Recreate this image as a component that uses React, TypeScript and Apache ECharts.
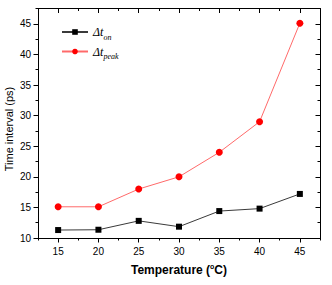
import React, { useEffect, useRef } from 'react';
import * as echarts from 'echarts';

const temperatures = [15, 20, 25, 30, 35, 40, 45];
const dtOn = [11.3, 11.35, 12.8, 11.85, 14.4, 14.8, 17.2];
const dtPeak = [15.1, 15.1, 18, 20, 24, 29, 45.1];
const xTicks = [15, 20, 25, 30, 35, 40, 45];
const yTicks = [10, 15, 20, 25, 30, 35, 40, 45];
const seriesNames = ['on', 'peak'];

const FONT = '"Liberation Sans", Arial, sans-serif';

export default function App() {
  const ref = useRef<HTMLDivElement>(null);
  useEffect(() => {
    if (!ref.current) return;
    const chart = echarts.init(ref.current, null, { renderer: 'svg' });
    const black = '#000';
    const baseX = {
      type: 'value', min: 12.5, max: 47.5, interval: 2.5, splitLine: { show: false },
    };
    const baseY = {
      type: 'value', min: 10, max: 47.5, interval: 2.5, splitLine: { show: false },
    };
    const legendRich = {
      a: { fontFamily: '"Liberation Serif", "Times New Roman", serif', fontStyle: 'italic', fontSize: 12, color: black },
      b: { fontFamily: '"Liberation Serif", "Times New Roman", serif', fontStyle: 'italic', fontSize: 8, color: black, padding: [10, 0, 0, 0] },
    };
    const legendFormatter = (n: string) => `{a|Δt}{b|${n}}`;
    chart.setOption({
      animation: false,
      textStyle: { fontFamily: FONT },
      grid: { left: 38, right: 12, top: 8.5, bottom: 47, containLabel: false },
      legend: [
        {
          data: [seriesNames[0]], left: 56, top: 21, itemWidth: 26, itemHeight: 7,
          formatter: legendFormatter, textStyle: { rich: legendRich }, itemGap: 4,
        },
        {
          data: [seriesNames[1]], left: 56, top: 40.5, itemWidth: 26, itemHeight: 7,
          formatter: legendFormatter, textStyle: { rich: legendRich }, itemGap: 4,
        },
      ],
      xAxis: [
        {
          ...baseX, position: 'bottom',
          axisLine: { show: true, onZero: false, lineStyle: { color: black, width: 1 } },
          axisTick: { show: true, inside: false, length: 2.5, lineStyle: { color: black } },
          axisLabel: { customValues: xTicks, fontSize: 10, color: black, margin: 8, fontFamily: FONT },
          name: 'Temperature ({s|o}C)', nameLocation: 'middle', nameGap: 25,
          nameTextStyle: {
            fontFamily: FONT, fontWeight: 'bold', fontSize: 12, color: black,
            rich: { s: { fontFamily: FONT, fontWeight: 'bold', fontSize: 7, color: black, padding: [0, 0, 6, 0] } },
          },
        },
        {
          ...baseX, position: 'bottom',
          axisLine: { show: false, onZero: false },
          axisTick: { show: true, inside: false, length: 4.5, customValues: xTicks, lineStyle: { color: black } },
          axisLabel: { show: false },
        },
        {
          ...baseX, position: 'top',
          axisLine: { show: true, onZero: false, lineStyle: { color: black, width: 1 } },
          axisTick: { show: true, inside: true, length: 2.5, lineStyle: { color: black } },
          axisLabel: { show: false },
        },
        {
          ...baseX, position: 'top',
          axisLine: { show: false, onZero: false },
          axisTick: { show: true, inside: true, length: 4.5, customValues: xTicks, lineStyle: { color: black } },
          axisLabel: { show: false },
        },
      ],
      yAxis: [
        {
          ...baseY, position: 'left',
          axisLine: { show: true, onZero: false, lineStyle: { color: black, width: 1 } },
          axisTick: { show: true, inside: false, length: 2.5, lineStyle: { color: black } },
          axisLabel: { customValues: yTicks, fontSize: 10, color: black, margin: 7, fontFamily: FONT },
        },
        {
          ...baseY, position: 'left',
          axisLine: { show: false, onZero: false },
          axisTick: { show: true, inside: false, length: 4.5, customValues: yTicks, lineStyle: { color: black } },
          axisLabel: { show: false },
        },
        {
          ...baseY, position: 'right',
          axisLine: { show: true, onZero: false, lineStyle: { color: black, width: 1 } },
          axisTick: { show: true, inside: true, length: 2.5, lineStyle: { color: black } },
          axisLabel: { show: false },
        },
        {
          ...baseY, position: 'right',
          axisLine: { show: false, onZero: false },
          axisTick: { show: true, inside: true, length: 4.5, customValues: yTicks, lineStyle: { color: black } },
          axisLabel: { show: false },
        },
      ],
      graphic: [
        {
          type: 'text', x: 3.5, y: 129, rotation: Math.PI / 2,
          style: {
            text: 'Time interval (ps)', fontSize: 11, fontFamily: FONT, fill: black,
            align: 'center', verticalAlign: 'top',
          },
        },
      ],
      series: [
        {
          name: seriesNames[0], type: 'line', xAxisIndex: 0, yAxisIndex: 0,
          data: temperatures.map((t, i) => [t, dtOn[i]]),
          symbol: 'rect', symbolSize: 6,
          itemStyle: { color: '#000' },
          lineStyle: { color: '#3a3a3a', width: 1 },
        },
        {
          name: seriesNames[1], type: 'line', xAxisIndex: 0, yAxisIndex: 0,
          data: temperatures.map((t, i) => [t, dtPeak[i]]),
          symbol: 'circle', symbolSize: 7,
          itemStyle: { color: '#ff0000' },
          lineStyle: { color: '#ff6a6a', width: 1 },
        },
      ],
    });
    return () => chart.dispose();
  }, []);
  return (
    <div
      ref={ref}
      style={{ position: 'absolute', left: 0, top: 0, width: 332, height: 285 }}
    />
  );
}
